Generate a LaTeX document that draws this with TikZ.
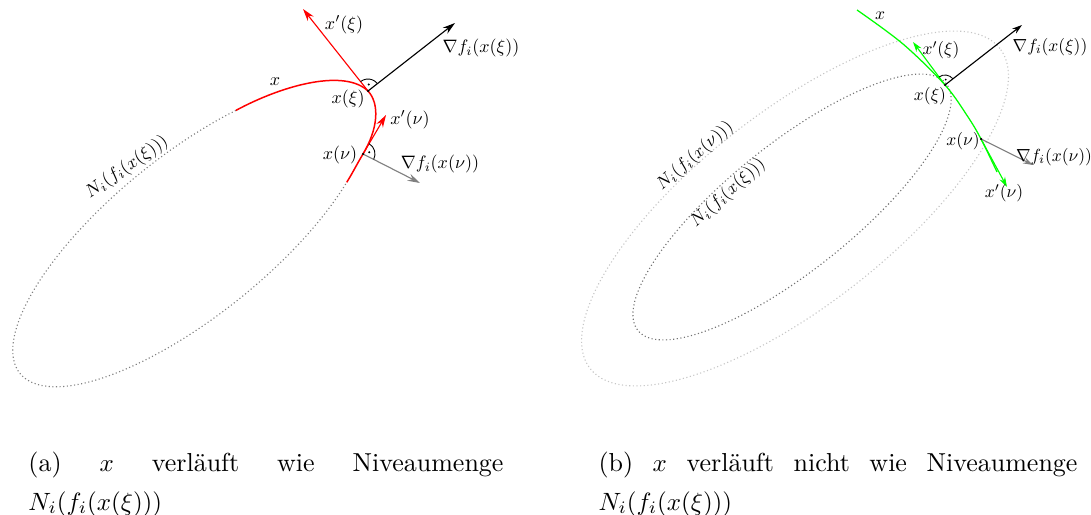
\documentclass[tikz,border=0pt]{standalone}
\usepackage{fontspec}
\usetikzlibrary{arrows.meta}
\begin{document}
\begin{tikzpicture}[x=0.4pt,y=0.4pt,
  lev/.style={densely dotted, line width=0.45pt},
  arr/.style={-{Stealth[length=5pt,width=3pt]}, line width=0.45pt},
  arrb/.style={-{Stealth[length=4pt,width=2.5pt]}, line width=0.45pt},
  lbla/.style={inner sep=0pt, font=\fontsize{10}{12}\selectfont, scale=0.72},
  lblb/.style={inner sep=0pt, font=\fontsize{10}{12}\selectfont, scale=0.7},
  rmark/.style={line width=0.35pt},
  capt/.style={anchor=north west, inner sep=0pt, align=justify, font=\fontsize{10.4}{15.6}\selectfont}]
\useasboundingbox (0,0) rectangle (1091,514);

% ---------------- (a) ----------------
\begin{scope}[shift={(191,279)},rotate=39]
  \coordinate (a1) at (59:220 and 80);
  \coordinate (a2) at (-45.5:220 and 80);
  \draw[lev, gray] (a1) arc[start angle=59, end angle=314.5, x radius=220, y radius=80];
\end{scope}
\coordinate (xi) at (368,423);
\coordinate (nu) at (363,360);
\coordinate (xiT) at (303,505);
\coordinate (xiG) at (455,491);
\coordinate (nuT) at (386,399);
\coordinate (nuG) at (420,331);
\draw[red, line width=0.6pt] (a1) .. controls (285,430) and (345,445) .. (xi)
  .. controls (380,410) and (378,385) .. (nu)
  .. controls (357,350) and (352,340) .. (a2);
\draw[arr, red] (xi) -- (xiT);
\draw[arr, black] (xi) -- (xiG);
\draw[arr, red] (nu) -- (nuT);
\draw[arr, gray] (nu) -- (nuG);
\draw[rmark] ([shift={(38:12)}]xi) arc[start angle=38, end angle=128.4, radius=12];
\fill ([shift={(83:6.5)}]xi) circle (0.45pt);
\draw[rmark] ([shift={(-27:12)}]nu) arc[start angle=-27, end angle=59.5, radius=12];
\fill ([shift={(16:6.5)}]nu) circle (0.45pt);
\fill (xi) circle (0.5pt);
\fill (nu) circle (0.5pt);

\node[lbla] (lx) at (275,432) {$x$};
\node[lbla] (lxid) at (344,489) {$x'(\xi)$};
\node[lbla] (lgxi) at (481,466) {$\nabla f_i(x(\xi))$};
\node[lbla] (lxi) at (348,415) {$x(\xi)$};
\node[lbla] (lnud) at (410,394) {$x'(\nu)$};
\node[lbla] (lnu) at (340,359) {$x(\nu)$};
\node[lbla] (lgnu) at (440,350) {$\nabla f_i(x(\nu))$};
\node[lbla, rotate=35] (lNa) at (127,347) {$N_i(f_i(x(\xi)))$};

% ---------------- (b) ----------------
\draw[lev, gray!45, rotate around={38:(795,305.5)}] (795,305.5) ellipse[x radius=260, y radius=97];
\draw[lev, gray!90!black, rotate around={38.7:(792,307)}] (792,307) ellipse[x radius=197.5, y radius=63];
\coordinate (xib) at (945,429);
\coordinate (nub) at (981,375);
\coordinate (xibT) at (913,472);
\coordinate (xibG) at (1022,489);
\coordinate (nubT) at (1007,327);
\coordinate (nubG) at (1033,349);
\coordinate (gs) at (857,504);
\coordinate (ge) at (997,342);
\draw[green, line width=0.5pt] plot[smooth, tension=0.55] coordinates
  {(gs) (903,470) (xib) (968,397) (nub) (ge)};
\draw[arrb, green] (xib) -- (xibT);
\draw[arrb, black] (xib) -- (xibG);
\draw[arrb, green] (nub) -- (nubT);
\draw[arrb, gray] (nub) -- (nubG);
\draw[rmark] ([shift={(38:10)}]xib) arc[start angle=38, end angle=127, radius=10];
\fill ([shift={(82.5:5.5)}]xib) circle (0.4pt);
\fill (xib) circle (0.5pt);
\fill (nub) circle (0.5pt);

\node[lblb] (bx) at (880,498) {$x$};
\node[lblb] (bxid) at (941,464) {$x'(\xi)$};
\node[lblb] (bgxi) at (1050,467) {$\nabla f_i(x(\xi))$};
\node[lblb] (bxi) at (930,418) {$x(\xi)$};
\node[lblb] (bnu) at (963,373) {$x(\nu)$};
\node[lblb] (bgnu) at (1054,357) {$\nabla f_i(x(\nu))$};
\node[lblb] (bnud) at (1004,321) {$x'(\nu)$};
\node[lblb, rotate=41] (bNnu) at (695,358) {$N_i(f_i(x(\nu)))$};
\node[lblb, rotate=42] (bNxi) at (728,321) {$N_i(f_i(x(\xi)))$};

% ---------------- captions ----------------
\node[capt, text width=190pt] (capa) at (28,63)
  {\noindent(a) $x$ verläuft wie Niveaumenge\linebreak $N_i(f_i(x(\xi)))$};
\node[capt, text width=191.6pt] (capb) at (598,63)
  {\noindent(b) $x$ verläuft nicht wie Niveaumenge\linebreak $N_i(f_i(x(\xi)))$};
\end{tikzpicture}
\end{document}
